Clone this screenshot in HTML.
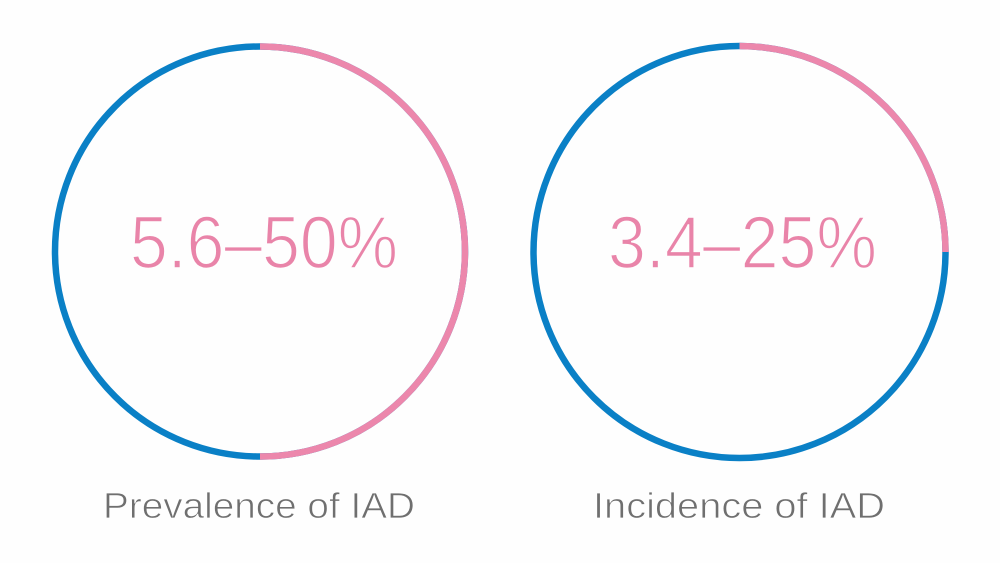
<!DOCTYPE html>
<html>
<head>
<meta charset="utf-8">
<style>
  html,body{margin:0;padding:0;background:#fefefe;}
  svg{display:block;}
</style>
</head>
<body>
<svg width="1000" height="563" viewBox="0 0 1000 563" xmlns="http://www.w3.org/2000/svg">
  <rect width="1000" height="563" fill="#fefefe"/>
  <!-- Left circle: 50% pink (top -> bottom, clockwise on right side) -->
  <circle cx="260" cy="251.5" r="205" fill="none" stroke="#0a80c6" stroke-width="6.5"/>
  <path d="M260 46.5 A205 205 0 0 1 260 456.5" fill="none" stroke="#ec87ac" stroke-width="6.5"/>
  <!-- Right circle: 25% pink (top -> right) -->
  <circle cx="739.5" cy="252" r="206" fill="none" stroke="#0a80c6" stroke-width="6.5"/>
  <path d="M739.5 46 A206 206 0 0 1 945.5 252" fill="none" stroke="#ec87ac" stroke-width="6.5"/>

  <g stroke="#fefefe" stroke-width="1.6" paint-order="fill">
    <text x="130" y="268" font-family="Liberation Sans, sans-serif" font-size="74" fill="#e984a9" textLength="268" lengthAdjust="spacingAndGlyphs">5.6–50%</text>
    <text x="608" y="268" font-family="Liberation Sans, sans-serif" font-size="74" fill="#e984a9" textLength="269" lengthAdjust="spacingAndGlyphs">3.4–25%</text>
  </g>
  <g stroke="#fefefe" stroke-width="0.8" paint-order="fill">
    <text x="103" y="518" font-family="Liberation Sans, sans-serif" font-size="36" fill="#6f6f6f" textLength="312" lengthAdjust="spacingAndGlyphs">Prevalence of IAD</text>
    <text x="593" y="518" font-family="Liberation Sans, sans-serif" font-size="36" fill="#6f6f6f" textLength="292" lengthAdjust="spacingAndGlyphs">Incidence of IAD</text>
  </g>
</svg>
</body>
</html>
